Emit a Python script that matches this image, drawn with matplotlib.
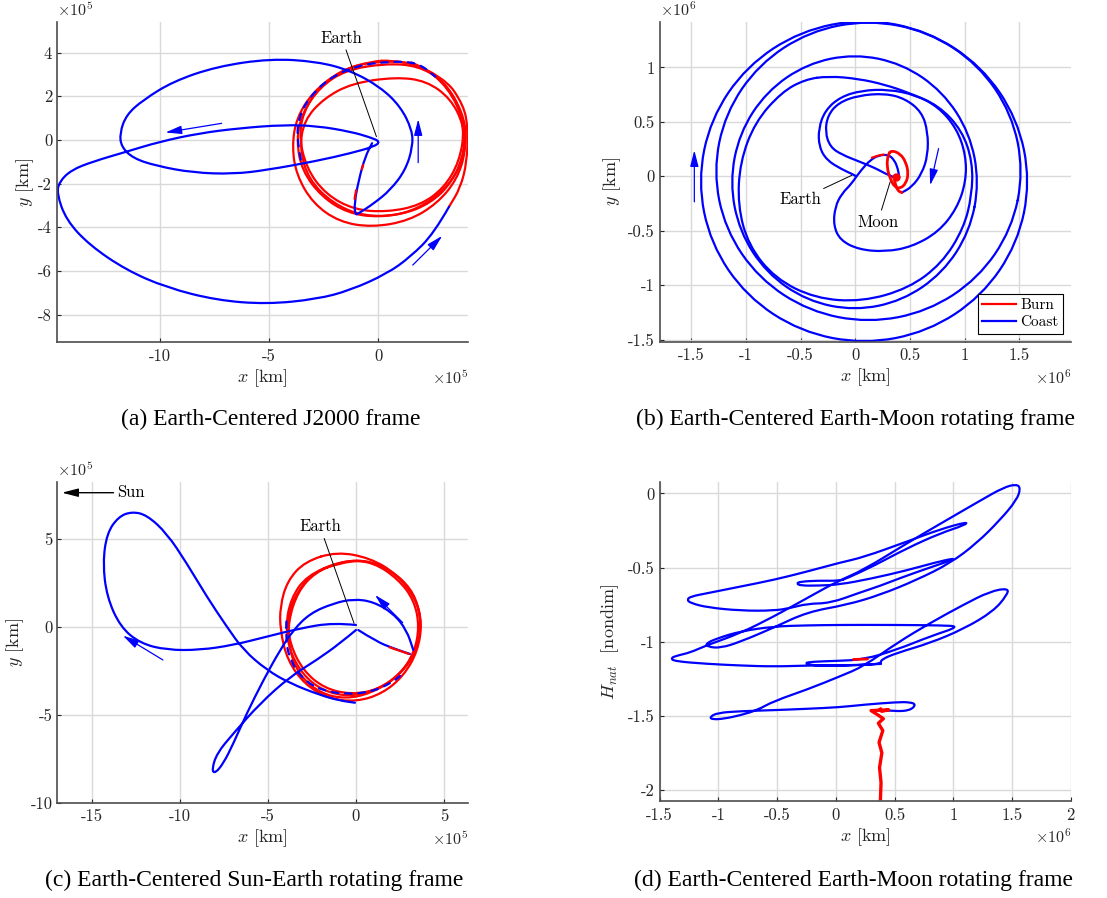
import numpy as np
import matplotlib.pyplot as plt
from matplotlib.path import Path
from matplotlib.patches import PathPatch

plt.rcParams['font.family'] = 'cmr10'
plt.rcParams['mathtext.fontset'] = 'cm'
plt.rcParams['axes.unicode_minus'] = False
plt.rcParams['axes.formatter.use_mathtext'] = True

BLUE = (0, 0, 1)
RED = (1, 0, 0)

# ---------------- (a) Earth-Centered J2000, units 1e5 km ----------------
a_coast = [(3.23, -3.06), (2.54, -4.28), (1.47, -5.35), (0.40, -6.12), (-1.28, -6.88), (-2.81, -7.29),
           (-5.11, -7.52), (-7.40, -7.34), (-9.69, -6.76), (-11.53, -5.96), (-13.21, -4.82), (-14.28, -3.67),
           (-14.71, -2.45), (-14.59, -1.91), (-14.05, -1.38), (-13.06, -0.99), (-11.53, -0.54), (-10.0, -0.08),
           (-8.17, 0.31), (-6.33, 0.54), (-4.34, 0.69), (-2.81, 0.64), (-1.28, 0.38), (-0.37, 0.12), (0.09, -0.08),
           (-0.21, -0.31), (-1.28, -0.61), (-2.81, -0.96), (-5.11, -1.38), (-6.64, -1.56), (-8.47, -1.50),
           (-10.15, -1.19), (-11.22, -0.84), (-11.76, -0.31), (-11.83, 0.31), (-11.53, 1.15), (-10.76, 1.83),
           (-9.39, 2.68), (-7.40, 3.36), (-4.95, 3.72), (-2.81, 3.59), (-1.28, 3.18), (0.09, 2.42), (1.01, 1.53),
           (1.54, 0.46), (1.57, -0.31), (1.24, -1.38), (0.55, -2.29), (-0.21, -2.91), (-0.90, -3.36),
           (-1.06, -3.44), (-1.10, -2.91), (-0.90, -1.83), (-0.60, -0.76), (-0.29, -0.15)]
a_coast_rim = [(-3.55, -0.9), (-3.73, 0.0), (-3.65, 1.0), (-3.2, 1.9), (-2.3, 2.8), (-1.0, 3.4), (0.5, 3.6),
               (1.8, 3.55), (2.6, 2.9)]
a_burn_loops = [
    [(0.6, 3.65), (2.0, 3.4), (3.2, 2.4), (3.95, 0.8), (4.0, -0.5), (3.6, -1.8), (2.7, -2.9), (1.4, -3.7),
     (-0.3, -4.0), (-1.8, -3.75), (-3.0, -2.9), (-3.75, -1.6), (-3.95, -0.3), (-3.75, 1.0), (-3.0, 2.2),
     (-1.7, 3.2), (-0.3, 3.6), (0.6, 3.65)],
    [(0.3, 3.5), (1.8, 3.4), (3.0, 2.7), (3.85, 1.3), (4.05, 0.0), (3.7, -1.4), (2.8, -2.5), (1.5, -3.3),
     (0.0, -3.55), (-1.4, -3.35), (-2.6, -2.6), (-3.5, -1.4), (-3.75, 0.0), (-3.5, 1.2), (-2.7, 2.4),
     (-1.5, 3.2), (0.3, 3.5)],
    [(0.8, 2.88), (2.2, 2.7), (3.3, 1.9), (3.9, 0.7), (3.95, -0.5), (3.4, -1.9), (2.4, -2.9), (1.0, -3.45),
     (-0.7, -3.5), (-2.1, -2.9), (-3.2, -1.8), (-3.6, -0.4), (-3.4, 0.9), (-2.5, 1.9), (-1.2, 2.6), (0.8, 2.88)],
    [(1.5, 3.55), (2.6, 3.0), (3.5, 2.0), (3.95, 0.5), (3.7, -1.0), (3.0, -2.2), (1.9, -3.0), (0.4, -3.3),
     (-1.1, -3.2), (-2.4, -2.5), (-3.3, -1.3), (-3.65, 0.3), (-3.3, 1.6), (-2.4, 2.7), (-1.2, 3.4),
     (0.2, 3.6), (1.5, 3.55)],
    [(1.5, 3.55), (3.0, 2.9), (3.9, 1.6), (4.1, 0.5), (4.05, -1.0), (3.75, -2.2), (3.23, -3.06)],
]
a_burn_bits = [[(-1.09, -2.7), (-1.02, -2.3)], [(-0.76, -1.35), (-0.70, -1.15)]]
a_arrows = [((-7.17, 0.76), (-9.74, 0.34)), ((1.82, -1.04), (1.82, 0.95)), ((1.57, -5.73), (2.92, -4.39))]
a_earth = ((-1.67, 4.66), (-0.09, 0.15))

# ---------------- (b) Earth-Moon rotating, units 1e6 km ----------------
b_loops = [
    [(1.60, -0.046), (1.484, 0.527), (1.155, 1.013), (0.662, 1.337), (0.08, 1.451), (-0.502, 1.337),
     (-0.995, 1.013), (-1.324, 0.527), (-1.44, -0.046), (-1.324, -0.619), (-0.995, -1.105), (-0.502, -1.429),
     (0.08, -1.543), (0.662, -1.429), (1.155, -1.105), (1.484, -0.619), (1.60, -0.046)],
    [(1.538, 0.045), (1.43, 0.578), (1.123, 1.03), (0.663, 1.332), (0.12, 1.438), (-0.423, 1.332),
     (-0.883, 1.03), (-1.19, 0.578), (-1.298, 0.045), (-1.19, -0.488), (-0.883, -0.94), (-0.423, -1.242),
     (0.12, -1.348), (0.663, -1.242), (1.123, -0.94), (1.43, -0.488), (1.538, 0.045)],
    [(1.133, -0.055), (1.046, 0.397), (0.799, 0.779), (0.429, 1.035), (-0.007, 1.125), (-0.443, 1.035),
     (-0.813, 0.779), (-1.06, 0.397), (-1.147, -0.055), (-1.06, -0.507), (-0.813, -0.889), (-0.443, -1.145),
     (-0.007, -1.235), (0.429, -1.145), (0.799, -0.889), (1.046, -0.507), (1.133, -0.055)],
    [(-0.246, 0.92), (0.029, 0.896), (0.273, 0.841), (0.487, 0.768), (0.761, 0.651), (0.975, 0.422),
     (1.072, 0.131), (1.066, -0.174), (0.99, -0.48), (0.791, -0.801), (0.486, -1.031), (0.059, -1.153),
     (-0.368, -1.122), (-0.734, -0.939), (-0.978, -0.633), (-1.075, -0.266), (-1.054, 0.131), (-0.917, 0.498),
     (-0.673, 0.774), (-0.459, 0.89), (-0.246, 0.92)],
]
b_heart = [(0.007, -0.006), (-0.032, -0.067), (-0.124, -0.159), (-0.185, -0.281), (-0.2, -0.45),
           (-0.139, -0.587), (0.029, -0.673), (0.273, -0.694), (0.517, -0.648), (0.761, -0.511),
           (0.928, -0.297), (1.011, -0.052), (1.011, 0.193), (0.928, 0.437), (0.761, 0.636), (0.547, 0.749),
           (0.303, 0.798), (0.059, 0.789), (-0.139, 0.728), (-0.276, 0.606), (-0.337, 0.437), (-0.331, 0.269),
           (-0.261, 0.147), (-0.124, 0.064), (-0.017, 0.015), (0.0, 0.004)]
b_heart_inner = [(0.37, -0.015), (0.303, 0.009), (0.181, 0.076), (0.029, 0.138), (-0.124, 0.199),
                 (-0.23, 0.269), (-0.276, 0.407), (-0.252, 0.56), (-0.154, 0.676), (0.029, 0.743),
                 (0.273, 0.761), (0.456, 0.713), (0.608, 0.59), (0.663, 0.407), (0.663, 0.193), (0.608, 0.024),
                 (0.517, -0.098), (0.425, -0.15)]
b_transfer = [(0.007, -0.006), (0.059, 0.064), (0.135, 0.147), (0.212, 0.193), (0.303, 0.199),
              (0.358, 0.147), (0.389, 0.07), (0.401, -0.006)]
b_burn_arc = [(0.151, 0.17), (0.212, 0.193), (0.26, 0.199)]
b_burn_loop = [(0.328, 0.239), (0.41, 0.208), (0.462, 0.131), (0.486, 0.024), (0.462, -0.067), (0.41, -0.113),
               (0.358, -0.098), (0.318, -0.021), (0.288, 0.086), (0.297, 0.193), (0.328, 0.239)]
b_burn_tail = [(0.358, -0.037), (0.379, -0.128), (0.425, -0.15)]
b_moon = (0.37, -0.006)
b_arrows = [((-1.472, -0.235), (-1.472, 0.239)), ((0.761, 0.254), (0.684, -0.083))]
b_earth = ((-0.505, -0.214), (-0.032, 0.009))
b_moon_label = ((0.206, -0.419), (0.318, -0.052))

# ---------------- (c) Sun-Earth rotating, units 1e5 km ----------------
c_coast_big = [(0.0, 0.095), (-1.285, 0.227), (-3.176, -0.095), (-5.066, -0.568), (-6.957, -1.042),
               (-8.847, -1.326), (-10.737, -1.326), (-12.25, -0.947), (-13.384, 0.0), (-14.14, 1.705),
               (-14.367, 3.598), (-14.14, 5.303), (-13.478, 6.25), (-12.722, 6.534), (-11.871, 6.345),
               (-10.737, 5.303), (-9.603, 3.598), (-8.469, 1.705), (-7.335, 0.0), (-6.389, -1.326),
               (-5.066, -2.462), (-3.743, -3.22), (-2.0, -3.9), (-0.9, -4.2), (-0.06, -4.32)]
c_coast_eight = [(0.0, -0.189), (-0.907, -0.947), (-2.231, -1.894), (-3.743, -2.841), (-5.444, -4.356),
                 (-6.957, -6.061), (-7.902, -7.197), (-8.185, -8.144), (-7.996, -8.333), (-7.524, -7.765),
                 (-6.957, -6.629), (-6.2, -4.924), (-5.255, -3.03), (-4.31, -1.326), (-3.554, -0.189),
                 (-2.609, 0.758), (-1.285, 1.326), (-0.151, 1.572), (0.983, 1.42), (2.117, 0.758),
                 (2.873, -0.189), (3.251, -1.326)]
c_coast_out = [(0.13, -0.19), (1.17, -0.85), (2.12, -1.23), (3.06, -1.55)]
c_coast_rim = [(-3.95, 0.3), (-4.0, -0.8), (-3.7, -2.0), (-3.0, -3.0), (-2.0, -3.6), (-0.6, -3.85),
               (0.9, -3.7), (2.0, -3.2), (2.5, -2.8)]
c_burn_loops = [
    [(-1.1, 4.26), (0.8, 3.9), (2.3, 3.0), (3.4, 1.6), (3.75, 0.2), (3.5, -1.4), (2.7, -2.8), (1.5, -3.8),
     (0.04, -4.26), (-1.5, -4.1), (-2.9, -3.3), (-3.9, -1.9), (-4.3, -0.2), (-4.31, 1.14), (-3.9, 2.6),
     (-2.9, 3.7), (-1.1, 4.26)],
    [(-0.5, 3.8), (1.0, 3.65), (2.4, 2.7), (3.3, 1.5), (3.6, 0.0), (3.3, -1.5), (2.5, -2.7), (1.2, -3.6),
     (-0.3, -3.85), (-1.8, -3.5), (-3.0, -2.5), (-3.75, -1.0), (-3.9, 0.5), (-3.4, 1.9), (-2.4, 3.1),
     (-0.5, 3.8)],
    [(-0.8, 3.75), (0.9, 3.75), (2.4, 2.9), (3.4, 1.6), (3.7, 0.3), (3.5, -1.2), (2.8, -2.4), (1.6, -3.4),
     (0.0, -3.95), (-1.5, -3.8), (-2.8, -3.0), (-3.7, -1.6), (-4.0, 0.0), (-3.7, 1.6), (-2.8, 2.9),
     (-0.8, 3.75)],
    [(-1.0, 3.6), (0.5, 3.8), (2.0, 3.2), (3.1, 2.2), (3.6, 1.0), (3.7, -0.4), (3.2, -1.8), (2.2, -3.0),
     (0.8, -3.8), (-0.6, -4.1), (-2.0, -3.8), (-3.2, -2.8), (-3.8, -1.3), (-3.85, 0.3), (-3.3, 2.0),
     (-2.3, 3.1), (-1.0, 3.6)],
]
c_burn_bit = [(1.9, -1.17), (3.0, -1.55)]
c_arrows = [((-10.96, -1.89), (-13.23, -0.51)), ((2.65, 0.23), (1.08, 1.80))]
c_earth = ((-2.04, 5.68), (-0.11, 0.19))
c_sun = ((-13.76, 7.61), (-16.69, 7.61))

# ---------------- (d) H_nat vs x, x in 1e6 km ----------------
d_burn_spike = [(0.38, -2.06), (0.385, -1.95), (0.372, -1.85), (0.392, -1.75), (0.368, -1.68), (0.40, -1.60),
                (0.362, -1.55), (0.405, -1.52), (0.35, -1.49), (0.30, -1.465), (0.45, -1.46), (0.39, -1.47),
                (0.38, -1.455)]
d_coast_1 = [(0.38, -1.46), (0.50, -1.47), (0.63, -1.465), (0.684, -1.424), (0.63, -1.408), (0.52, -1.408),
             (0.24, -1.425), (0.039, -1.442), (-0.244, -1.453), (-0.527, -1.462), (-0.81, -1.469),
             (-1.008, -1.48), (-1.073, -1.509), (-1.051, -1.525), (-0.952, -1.52), (-0.81, -1.496),
             (-0.669, -1.462), (-0.527, -1.401), (-0.244, -1.323), (0.039, -1.233), (0.237, -1.166),
             (0.52, -1.009), (0.803, -0.874), (1.086, -0.751), (1.312, -0.661), (1.468, -0.639),
             (1.459, -0.684), (1.34, -0.796), (1.086, -0.915), (0.803, -1.009), (0.52, -1.076),
             (0.384, -1.121), (0.385, -1.15), (0.2, -1.157), (0.0, -1.16), (-0.244, -1.161), (-0.527, -1.168),
             (-0.81, -1.161), (-1.093, -1.15), (-1.376, -1.132), (-1.404, -1.11), (-1.35, -1.094),
             (-1.234, -1.072), (-1.121, -1.031), (-0.81, -0.942), (-0.527, -0.83), (-0.244, -0.706),
             (0.011, -0.594), (0.237, -0.516), (0.605, -0.336), (0.945, -0.179), (1.228, -0.049),
             (1.426, 0.04), (1.539, 0.063), (1.573, 0.034), (1.539, -0.045), (1.398, -0.179), (1.199, -0.336),
             (0.973, -0.471), (0.69, -0.583), (0.379, -0.684), (0.096, -0.751), (-0.244, -0.80),
             (-0.527, -0.905), (-0.81, -1.0), (-0.98, -1.043), (-1.09, -1.035), (-1.107, -1.012),
             (-1.0, -0.975), (-0.81, -0.93), (-0.527, -0.897), (-0.244, -0.89), (0.039, -0.887), (0.5, -0.887),
             (0.9, -0.89), (1.058, -0.897), (0.803, -0.964), (0.52, -1.054), (0.237, -1.121), (0.0, -1.13),
             (-0.2, -1.135), (-0.27, -1.145), (-0.2, -1.16), (0.0, -1.165), (0.385, -1.15)]
d_coast_2 = [(0.03, -0.59), (-0.15, -0.588), (-0.30, -0.595), (-0.335, -0.607), (-0.30, -0.622),
             (-0.15, -0.622), (0.03, -0.615), (0.3, -0.575), (0.6, -0.52), (0.85, -0.465), (1.01, -0.437),
             (0.98, -0.452), (0.80, -0.50), (0.55, -0.57), (0.379, -0.623), (0.20, -0.67), (-0.046, -0.74),
             (-0.244, -0.744), (-0.386, -0.773), (-0.527, -0.791), (-0.81, -0.791), (-1.093, -0.769),
             (-1.234, -0.74), (-1.268, -0.717), (-1.234, -0.695), (-1.093, -0.673), (-0.81, -0.628),
             (-0.527, -0.583), (-0.244, -0.527), (0.039, -0.466), (0.237, -0.43), (0.605, -0.325),
             (0.888, -0.242), (1.12, -0.191), (1.10, -0.213), (0.888, -0.269), (0.605, -0.37), (0.322, -0.489),
             (0.096, -0.572), (0.03, -0.59)]
d_burn_bit = [(0.15, -1.12), (0.27, -1.117)]

# axes settings
a_ticks = ([-10, -5, 0], ['-10', '-5', '0'], [-8, -6, -4, -2, 0, 2, 4], ['-8', '-6', '-4', '-2', '0', '2', '4'])
b_ticks = ([-1.5, -1, -0.5, 0, 0.5, 1, 1.5], ['-1.5', '-1', '-0.5', '0', '0.5', '1', '1.5'],
           [-1.5, -1, -0.5, 0, 0.5, 1], ['-1.5', '-1', '-0.5', '0', '0.5', '1'])
c_ticks = ([-15, -10, -5, 0, 5], ['-15', '-10', '-5', '0', '5'], [-10, -5, 0, 5], ['-10', '-5', '0', '5'])
d_ticks = ([-1.5, -1, -0.5, 0, 0.5, 1, 1.5, 2], ['-1.5', '-1', '-0.5', '0', '0.5', '1', '1.5', '2'],
           [-2, -1.5, -1, -0.5, 0], ['-2', '-1.5', '-1', '-0.5', '0'])
captions = ['(a) Earth-Centered J2000 frame', '(b) Earth-Centered Earth-Moon rotating frame',
            '(c) Earth-Centered Sun-Earth rotating frame', '(d) Earth-Centered Earth-Moon rotating frame']

LW = 1.6
fig = plt.figure(figsize=(11.07, 8.98), dpi=100)


def curve(ax, p, color, lw=LW, ls='-'):
    # smooth quadratic curve guided by the read points
    a = np.asarray(p, dtype=float)
    if len(a) < 3:
        ax.plot(a[:, 0], a[:, 1], color=color, lw=lw, ls=ls, solid_capstyle='round')
        return
    closed = len(a) > 4 and np.allclose(a[0], a[-1])
    if closed:
        a = a[:-1]
        mids = (a + np.roll(a, -1, axis=0)) / 2
        verts = [mids[-1]]
        codes = [Path.MOVETO]
        for i in range(len(a)):
            verts += [a[i], mids[i]]
            codes += [Path.CURVE3, Path.CURVE3]
    else:
        verts = [a[0]]
        codes = [Path.MOVETO]
        for i in range(1, len(a) - 1):
            verts += [a[i], (a[i] + a[i + 1]) / 2]
            codes += [Path.CURVE3, Path.CURVE3]
        verts.append(a[-1])
        codes.append(Path.LINETO)
    ax.add_patch(PathPatch(Path(verts, codes), fill=False, edgecolor=color, lw=lw, ls=ls,
                           capstyle='round', joinstyle='round'))


def setup(ax, xlim, ylim, ticks, ylabel, ylab_x, xexp, yexp):
    ax.set_xlim(xlim)
    ax.set_ylim(ylim)
    ax.set_xticks(ticks[0])
    ax.set_xticklabels(ticks[1])
    ax.set_yticks(ticks[2])
    ax.set_yticklabels(ticks[3])
    for s in ['top', 'right']:
        ax.spines[s].set_visible(False)
    for s in ['left', 'bottom']:
        ax.spines[s].set_color('#4d4d4d')
        ax.spines[s].set_linewidth(1.2)
    ax.tick_params(direction='in', length=3, colors='#262626', labelsize=12)
    ax.tick_params(axis='x', pad=4.5)
    ax.tick_params(axis='y', pad=3.5)
    ax.grid(True, color='#d9d9d9', lw=1.0)
    ax.set_axisbelow(True)
    ax.text(0.5, -0.112, '$x$ [km]', transform=ax.transAxes, ha='center', va='center', fontsize=13,
            color='#262626')
    ax.text(ylab_x, 0.5, ylabel, transform=ax.transAxes, ha='center', va='center', rotation=90,
            fontsize=13, color='#262626')
    ax.text(1.0, -0.112, r'$\times10^{%d}$' % xexp, transform=ax.transAxes, ha='right', va='center',
            fontsize=11.5, color='#262626')
    if yexp:
        ax.text(0.0, 1.038, r'$\times10^{%d}$' % yexp, transform=ax.transAxes, ha='left', va='center',
                fontsize=11.5, color='#262626')


def arrow(ax, tail, head, color=BLUE, lw=0.9):
    ax.annotate('', xy=head, xytext=tail,
                arrowprops=dict(arrowstyle='-|>,head_length=0.7,head_width=0.18', color=color, lw=lw,
                                mutation_scale=14, shrinkA=0, shrinkB=0))


def label(ax, text, spec):
    ax.annotate(text, xy=spec[1], xytext=spec[0], ha='center', va='center', fontsize=12,
                arrowprops=dict(arrowstyle='-', color='k', lw=0.7, shrinkA=1, shrinkB=0))


# (a)
ax = fig.add_axes([0.0515, 0.6192, 0.3713, 0.3563])
setup(ax, (-14.7, 4.1), (-9.25, 5.4), a_ticks, '$y$ [km]', -0.078, 5, 5)
for loop in a_burn_loops:
    curve(ax, loop, RED)
curve(ax, a_coast_rim, BLUE, ls=(0, (3, 3)))
curve(ax, a_coast, BLUE)
for bit in a_burn_bits:
    curve(ax, bit, RED)
for t, h in a_arrows:
    arrow(ax, t, h)
label(ax, 'Earth', a_earth)

# (b)
ax = fig.add_axes([0.5958, 0.6195, 0.3715, 0.3563])
setup(ax, (-1.79, 1.97), (-1.52, 1.42), b_ticks, '$y$ [km]', -0.115, 6, 6)
for loop in b_loops:
    curve(ax, loop, BLUE)
for path in [b_heart, b_heart_inner, b_transfer]:
    curve(ax, path, BLUE)
curve(ax, b_burn_loop, RED, lw=2.0)
curve(ax, b_burn_arc, RED)
curve(ax, b_burn_tail, RED, lw=2.0)
ax.plot(*b_moon, 'o', color=RED, ms=5)
burn_line, = ax.plot([], [], color=RED, lw=LW)
coast_line, = ax.plot([], [], color=BLUE, lw=LW)
for t, h in b_arrows:
    arrow(ax, t, h)
label(ax, 'Earth', b_earth)
label(ax, 'Moon', b_moon_label)
leg = ax.legend([burn_line, coast_line], ['Burn', 'Coast'], loc='lower right', fontsize=11,
                fancybox=False, edgecolor='k', framealpha=1, borderaxespad=0.5, handlelength=2.2,
                handletextpad=0.3, borderpad=0.3, labelspacing=0.25)
leg.get_frame().set_linewidth(0.8)

# (c)
ax = fig.add_axes([0.0518, 0.1061, 0.3707, 0.3568])
setup(ax, (-16.95, 6.34), (-10, 8.2), c_ticks, '$y$ [km]', -0.103, 5, 5)
for loop in c_burn_loops:
    curve(ax, loop, RED)
curve(ax, c_coast_rim, BLUE, ls=(0, (3, 3)))
for path in [c_coast_big, c_coast_eight, c_coast_out]:
    curve(ax, path, BLUE)
curve(ax, c_burn_bit, RED)
for t, h in c_arrows:
    arrow(ax, t, h)
label(ax, 'Earth', c_earth)
arrow(ax, c_sun[0], c_sun[1], color='k', lw=1.0)
ax.text(c_sun[0][0] + 0.2, c_sun[0][1], 'Sun', ha='left', va='center', fontsize=12)

# (d)
ax = fig.add_axes([0.5958, 0.108, 0.3715, 0.3549])
setup(ax, (-1.5, 2.0), (-2.075, 0.075), d_ticks, '$H_{nat}$  [nondim]', -0.119, 6, None)
curve(ax, d_coast_1, BLUE)
curve(ax, d_coast_2, BLUE)
curve(ax, d_burn_bit, RED, lw=2.0)
ax.plot(*np.asarray(d_burn_spike).T, color=RED, lw=2.4)

# captions
cap_pos = [(270.5, 419), (855, 419), (254, 880), (853.5, 880)]
for (cx, cy), cap in zip(cap_pos, captions):
    fig.text(cx / 1107, 1 - cy / 898, cap, ha='center', va='center', fontsize=17,
             family='Liberation Serif')

fig.savefig('out.png', dpi=100)
